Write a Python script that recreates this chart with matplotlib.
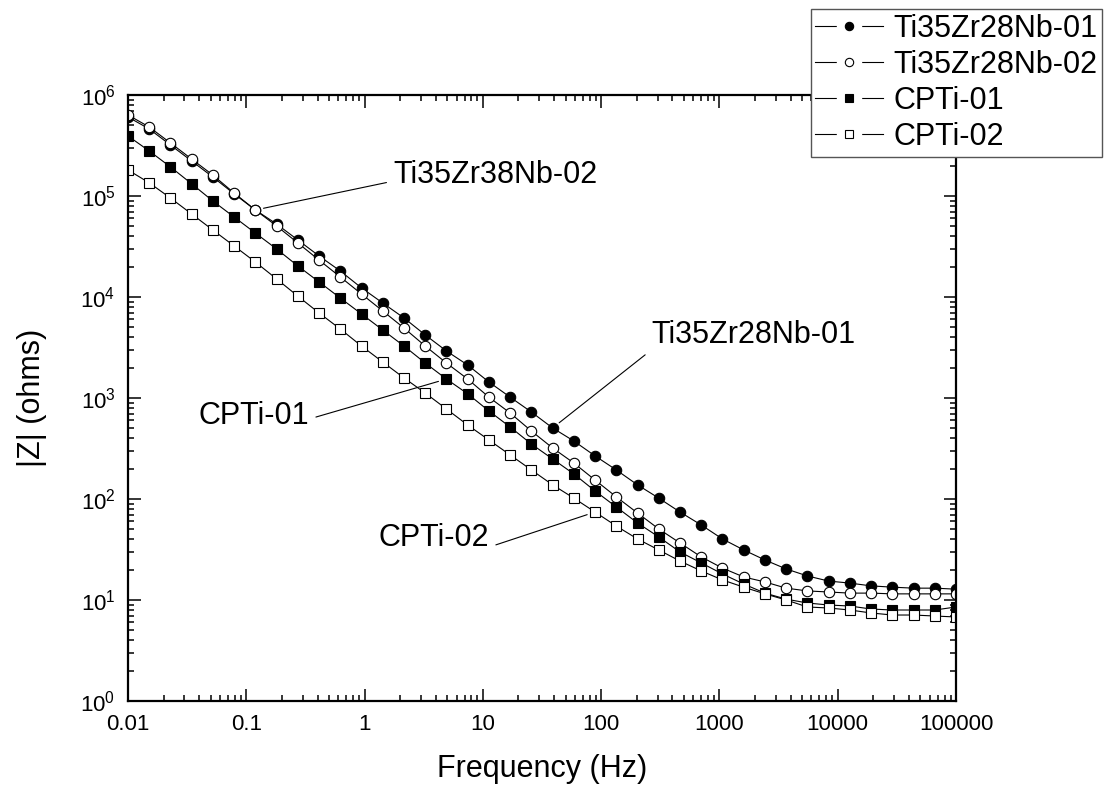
import matplotlib
matplotlib.use("Agg")
import matplotlib.pyplot as plt
from matplotlib.lines import Line2D
from matplotlib.legend_handler import HandlerTuple
from matplotlib.ticker import LogLocator, FuncFormatter, NullFormatter

plt.rcParams['font.family'] = ['Liberation Sans', 'DejaVu Sans']
plt.rcParams['mathtext.default'] = 'regular'

# frequency grid (Hz), 40 points from 0.01 to 100000
freq = [0.01, 0.01512, 0.02285, 0.03455, 0.05222, 0.07894, 0.1193, 0.1804,
        0.2727, 0.4122, 0.6232, 0.9427, 1.425, 2.154, 3.257, 4.924, 7.443,
        11.25, 17.01, 25.72, 38.88, 58.78, 88.86, 134.3, 203.1, 307.0, 464.2,
        701.8, 1061, 1604, 2425, 3665, 5541, 8377, 12660, 19150, 28950,
        43760, 66150, 100000]

# |Z| (ohms)
z_tzn01 = [6.06e5, 4.61e5, 3.20e5, 2.22e5, 1.54e5, 1.05e5, 7.27e4, 5.28e4,
           3.67e4, 2.55e4, 1.81e4, 1.23e4, 8.72e3, 6.20e3, 4.21e3, 2.92e3,
           2.12e3, 1.44e3, 1.02e3, 726, 505, 375, 267, 194, 138, 102, 74.3,
           55.3, 40.2, 31.3, 24.9, 20.3, 17.3, 15.4, 14.7, 13.8, 13.4, 13.1,
           13.1, 12.8]
z_tzn02 = [6.34e5, 4.82e5, 3.35e5, 2.32e5, 1.61e5, 1.07e5, 7.27e4, 5.05e4,
           3.43e4, 2.32e4, 1.58e4, 1.07e4, 7.27e3, 4.93e3, 3.27e3, 2.22e3,
           1.54e3, 1.02e3, 710, 471, 320, 227, 154, 105, 72.6, 50.5, 36.7,
           26.7, 20.7, 16.9, 15.1, 13.1, 12.3, 12.0, 11.7, 11.7, 11.5, 11.5,
           11.5, 11.5]
z_cpti01 = [3.93e5, 2.79e5, 1.94e5, 1.32e5, 8.91e4, 6.19e4, 4.30e4, 2.99e4,
            2.03e4, 1.41e4, 9.77e3, 6.79e3, 4.71e3, 3.27e3, 2.22e3, 1.54e3,
            1.10e3, 744, 516, 350, 249, 177, 120, 83.4, 57.9, 42.1, 29.9,
            23.3, 18.1, 14.4, 11.7, 10.2, 9.34, 8.92, 8.72, 8.14, 7.96, 7.96,
            7.96, 8.53]
z_cpti02 = [1.81e5, 1.35e5, 9.55e4, 6.63e4, 4.60e4, 3.20e4, 2.22e4, 1.51e4,
            1.02e4, 6.95e3, 4.82e3, 3.27e3, 2.27e3, 1.58e3, 1.12e3, 778, 540,
            384, 273, 194, 138, 102, 74.3, 54.0, 40.2, 31.3, 24.3, 19.4, 15.8,
            13.4, 11.5, 10.0, 8.53, 8.33, 7.96, 7.44, 7.10, 7.10, 6.94, 6.79]

labels = ["Ti35Zr28Nb-01", "Ti35Zr28Nb-02", "CPTi-01", "CPTi-02"]
xticks = [0.01, 0.1, 1, 10, 100, 1000, 10000, 100000]

fig = plt.figure(figsize=(11.09, 7.94), dpi=100)
ax = fig.add_axes([128/1109, 93/794, (956-128)/1109, (701-95)/794])

lw = 0.8
styles = [('o', 7.5, 'black'), ('o', 7.5, 'white'),
          ('s', 6.5, 'black'), ('s', 6.5, 'white')]
series = [z_tzn01, z_tzn02, z_cpti01, z_cpti02]

handles = []
for z, (mk, ms, fc), lab in zip(series, styles, labels):
    ax.plot(freq, z, '-', marker=mk, color='black', lw=lw, ms=ms, mfc=fc,
            mec='black', mew=0.8, label=lab)
    # legend handle: line, white gap, marker
    h_line = Line2D([], [], color='black', lw=0.8)
    h_gap = Line2D([], [], ls='none', marker='s', ms=17, mfc='white', mec='white')
    h_mark = Line2D([], [], ls='none', marker=mk, ms=ms * 0.8, mfc=fc,
                    mec='black', mew=0.8)
    handles.append((h_line, h_gap, h_mark))

ax.set_xscale('log')
ax.set_yscale('log')
ax.set_xlim(0.01, 100000)
ax.set_ylim(1, 1e6)

ax.set_xticks(xticks)
ax.xaxis.set_major_formatter(FuncFormatter(lambda v, p: '%g' % v))
ax.xaxis.set_minor_locator(LogLocator(base=10, subs=range(2, 10), numticks=20))
ax.xaxis.set_minor_formatter(NullFormatter())
ax.yaxis.set_major_locator(LogLocator(base=10, numticks=10))
ax.yaxis.set_minor_locator(LogLocator(base=10, subs=range(2, 10), numticks=20))
ax.yaxis.set_minor_formatter(NullFormatter())

ax.tick_params(which='both', direction='in', top=True, right=True, width=1.1)
ax.tick_params(which='major', length=9, labelsize=16, pad=9)
ax.tick_params(which='minor', length=4.5)
for s in ax.spines.values():
    s.set_linewidth(1.6)

ax.set_xlabel('Frequency (Hz)', fontsize=22, labelpad=14)
ax.set_ylabel('|Z| (ohms)', fontsize=22, labelpad=24)

# callout labels
arrow = dict(arrowstyle='-', color='black', lw=0.8, shrinkA=3, shrinkB=6)
ax.annotate('Ti35Zr38Nb-02', xy=(freq[6], z_tzn02[6]), xytext=(1.75, 1.61e5),
            fontsize=22, ha='left', va='center',
            arrowprops=dict(arrow, relpos=(0, 0.3)))
ax.annotate('Ti35Zr28Nb-01', xy=(freq[20], z_tzn01[20]), xytext=(265, 4.2e3),
            fontsize=22, ha='left', va='center',
            arrowprops=dict(arrow, relpos=(0, 0.0)))
ax.annotate('CPTi-01', xy=(freq[15], z_cpti01[15]), xytext=(0.34, 663),
            fontsize=22, ha='right', va='center',
            arrowprops=dict(arrow, relpos=(1, 0.4)))
ax.annotate('CPTi-02', xy=(freq[22], z_cpti02[22]), xytext=(11.3, 41),
            fontsize=22, ha='right', va='center',
            arrowprops=dict(arrow, relpos=(1, 0.2)))

fig.legend(handles, labels, loc='upper right',
           bbox_to_anchor=(1102/1109, 1 - 9/794),
           handler_map={tuple: HandlerTuple(ndivide=1, pad=0)},
           fontsize=22, frameon=True, fancybox=False, edgecolor='#555555',
           framealpha=1, handlelength=2.2, handletextpad=0.35,
           labelspacing=0.2, borderpad=0.15, borderaxespad=0)

fig.savefig('out.png', dpi=100)
